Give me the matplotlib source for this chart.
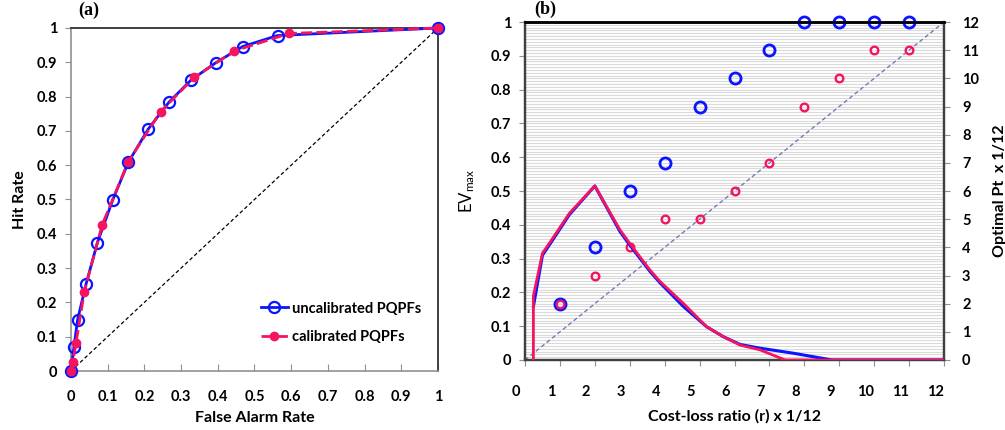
import numpy as np
import matplotlib
matplotlib.use('Agg')
import matplotlib.pyplot as plt
import matplotlib.transforms as mtransforms

plt.rcParams['font.family'] = ['Lato', 'DejaVu Sans']
plt.rcParams['mathtext.fontset'] = 'custom'
plt.rcParams['mathtext.rm'] = 'Lato'
plt.rcParams['mathtext.it'] = 'Lato'

# (a) ROC curves
far_uncal = [0, 0.008, 0.018, 0.041, 0.072, 0.114, 0.156, 0.211, 0.268, 0.327, 0.395, 0.468, 0.563, 1.0]
hr_uncal = [0, 0.069, 0.149, 0.253, 0.374, 0.499, 0.608, 0.706, 0.785, 0.848, 0.899, 0.946, 0.978, 1.0]
far_cal = [0, 0.005, 0.014, 0.036, 0.085, 0.156, 0.244, 0.336, 0.445, 0.594, 1.0]
hr_cal = [0, 0.025, 0.083, 0.229, 0.426, 0.61, 0.756, 0.856, 0.933, 0.984, 1.0]

# (b) EVmax curves
r_uncal = [0.24, 0.5, 0.76, 1.27, 2.0, 2.72, 3.0, 3.58, 3.87, 4.54, 5.2, 5.68, 6.16, 6.73, 7.69, 8.79, 12]
ev_uncal = [0.158, 0.31, 0.35, 0.43, 0.515, 0.38, 0.34, 0.262, 0.228, 0.158, 0.0985, 0.069, 0.046, 0.035, 0.02, 0, 0]
r_cal = [0.24, 0.24, 0.5, 0.76, 1.27, 2.0, 2.72, 3.0, 3.58, 3.87, 4.54, 5.2, 5.68, 6.16, 6.73, 7.45, 9, 12]
ev_cal = [0, 0.19, 0.316, 0.355, 0.434, 0.515, 0.385, 0.345, 0.266, 0.232, 0.167, 0.0985, 0.069, 0.044, 0.03, 0, 0, 0]

# (b) optimal Pt (right axis, x 1/12)
pt_x = [1, 2, 3, 4, 5, 6, 7, 8, 9, 10, 11]
pt_uncal = [2, 4, 6, 7, 9, 10, 11, 12, 12, 12, 12]
pt_cal = [2, 3, 4, 5, 5, 6, 7, 9, 10, 11, 11]

blue = '#0a14ff'
pink = '#f5145f'
spine_col = '#404040'

fig = plt.figure(figsize=(10.05, 4.3), dpi=100)

# ---------------- panel (a) ----------------
ax1 = fig.add_axes([0.0706, 0.1372, 0.3652, 0.7977])
ax1.plot([0, 1], [0, 1], color='black', lw=0.9, ls=(0, (3, 2)))
ax1.plot(far_uncal, hr_uncal, color=blue, lw=2, marker='o', ms=8, mfc='none', mew=1.6,
         label='uncalibrated PQPFs', clip_on=False, zorder=3)
ax1.plot(far_cal, hr_cal, color=pink, lw=2, ls=(0, (4, 1.5)), marker='o', ms=6, mec=pink, mfc=pink,
         label='calibrated PQPFs', clip_on=False, zorder=4)
ax1.set_xlim(0, 1)
ax1.set_ylim(0, 1)
ticks = np.round(np.arange(0, 1.01, 0.1), 1)
labels = ['0'] + [f'{t:.1f}' for t in ticks[1:-1]] + ['1']
ax1.set_xticks(ticks)
ax1.set_xticklabels(labels)
ax1.set_yticks(ticks)
ax1.set_yticklabels(labels)
ax1.tick_params(axis='x', direction='in', length=5, pad=14, labelsize=10.5, color='#909090')
ax1.tick_params(axis='y', direction='out', length=4, pad=6, labelsize=10.5, color='#909090')
for lab in ax1.get_xticklabels() + ax1.get_yticklabels():
    lab.set_fontweight('bold')
for s in ['left', 'bottom']:
    ax1.spines[s].set_color('#909090')
    ax1.spines[s].set_linewidth(1.2)
for s in ['top', 'right']:
    ax1.spines[s].set_color(spine_col)
    ax1.spines[s].set_linewidth(1.4)
ax1.set_xlabel('False Alarm Rate', fontsize=11.5, fontweight='bold', labelpad=5)
ax1.set_ylabel('Hit Rate', fontsize=11.5, fontweight='bold', labelpad=7)
ax1.legend(loc='lower right', frameon=False, handlelength=1.8, handletextpad=0.3,
           labelspacing=1.0, bbox_to_anchor=(0.99, 0.04),
           prop={'size': 10.5, 'weight': 'bold'})
fig.text(0.078, 1 - 2 / 430, '(a)', fontsize=13, fontweight='bold', family='Liberation Serif', va='top')

# ---------------- panel (b) ----------------
ax2 = fig.add_axes([0.5224, 0.1628, 0.4169, 0.786])
ax3 = ax2.twinx()
ax2.set_zorder(ax3.get_zorder() + 1)
ax2.patch.set_visible(False)

ax3.set_ylim(0, 12)
for g in np.arange(0.1, 12.0, 0.1):
    ax3.axhline(g, color='#dadada', lw=0.8, zorder=0)
ax3.plot([0, 12], [0, 12], color='#7878b4', lw=1.0, ls=(0, (3, 2)), zorder=1)
ax3.plot(pt_x, pt_uncal, ls='none', marker='o', ms=8, mfc='none', mec=blue, mew=2.0,
         clip_on=False, zorder=5)
ax3.plot(pt_x, pt_cal, ls='none', marker='o', ms=5.5, mfc='none', mec=pink, mew=1.7,
         clip_on=False, zorder=6)
ax3.set_yticks(range(0, 13))
ax3.tick_params(axis='y', direction='out', length=4, pad=9, labelsize=10.5, color='#909090')
for lab in ax3.get_yticklabels():
    lab.set_fontweight('bold')
ax3.set_ylabel('Optimal Pt  x 1/12', fontsize=11.5, fontweight='bold', labelpad=10)

ax2.plot(r_uncal, ev_uncal, color=blue, lw=2.2, zorder=3)
ax2.plot(r_cal, ev_cal, color=pink, lw=2.0, zorder=4)
ax2.set_xlim(0, 12)
ax2.set_ylim(0, 1)
ax2.set_xticks(range(0, 13))
ax2.set_yticks(ticks)
ax2.set_yticklabels(labels)
ax2.tick_params(axis='x', direction='out', length=4, pad=14, labelsize=10.5, color='#909090')
ax2.tick_params(axis='y', direction='out', length=4, pad=6, labelsize=10.5, color='#909090')
offset = mtransforms.ScaledTranslation(-9 / 100, 0, fig.dpi_scale_trans)
for lab in ax2.get_xticklabels():
    lab.set_fontweight('bold')
    lab.set_transform(lab.get_transform() + offset)
for lab in ax2.get_yticklabels():
    lab.set_fontweight('bold')
for a in (ax2, ax3):
    for s in ['left', 'bottom', 'right']:
        a.spines[s].set_color(spine_col)
        a.spines[s].set_linewidth(1.6)
    a.spines['top'].set_color('black')
    a.spines['top'].set_linewidth(1.8)
ax2.set_xlabel('Cost-loss ratio (r) x 1/12', fontsize=11.5, fontweight='bold', labelpad=7)
ax2.set_ylabel(r'EV$_{\mathrm{max}}$', fontsize=12)
ax2.yaxis.set_label_coords(-0.115, 0.5)
fig.text(0.532, 1 - 1 / 430, '(b)', fontsize=13, fontweight='bold', family='Liberation Serif', va='top')

fig.savefig('out.png', dpi=100)
